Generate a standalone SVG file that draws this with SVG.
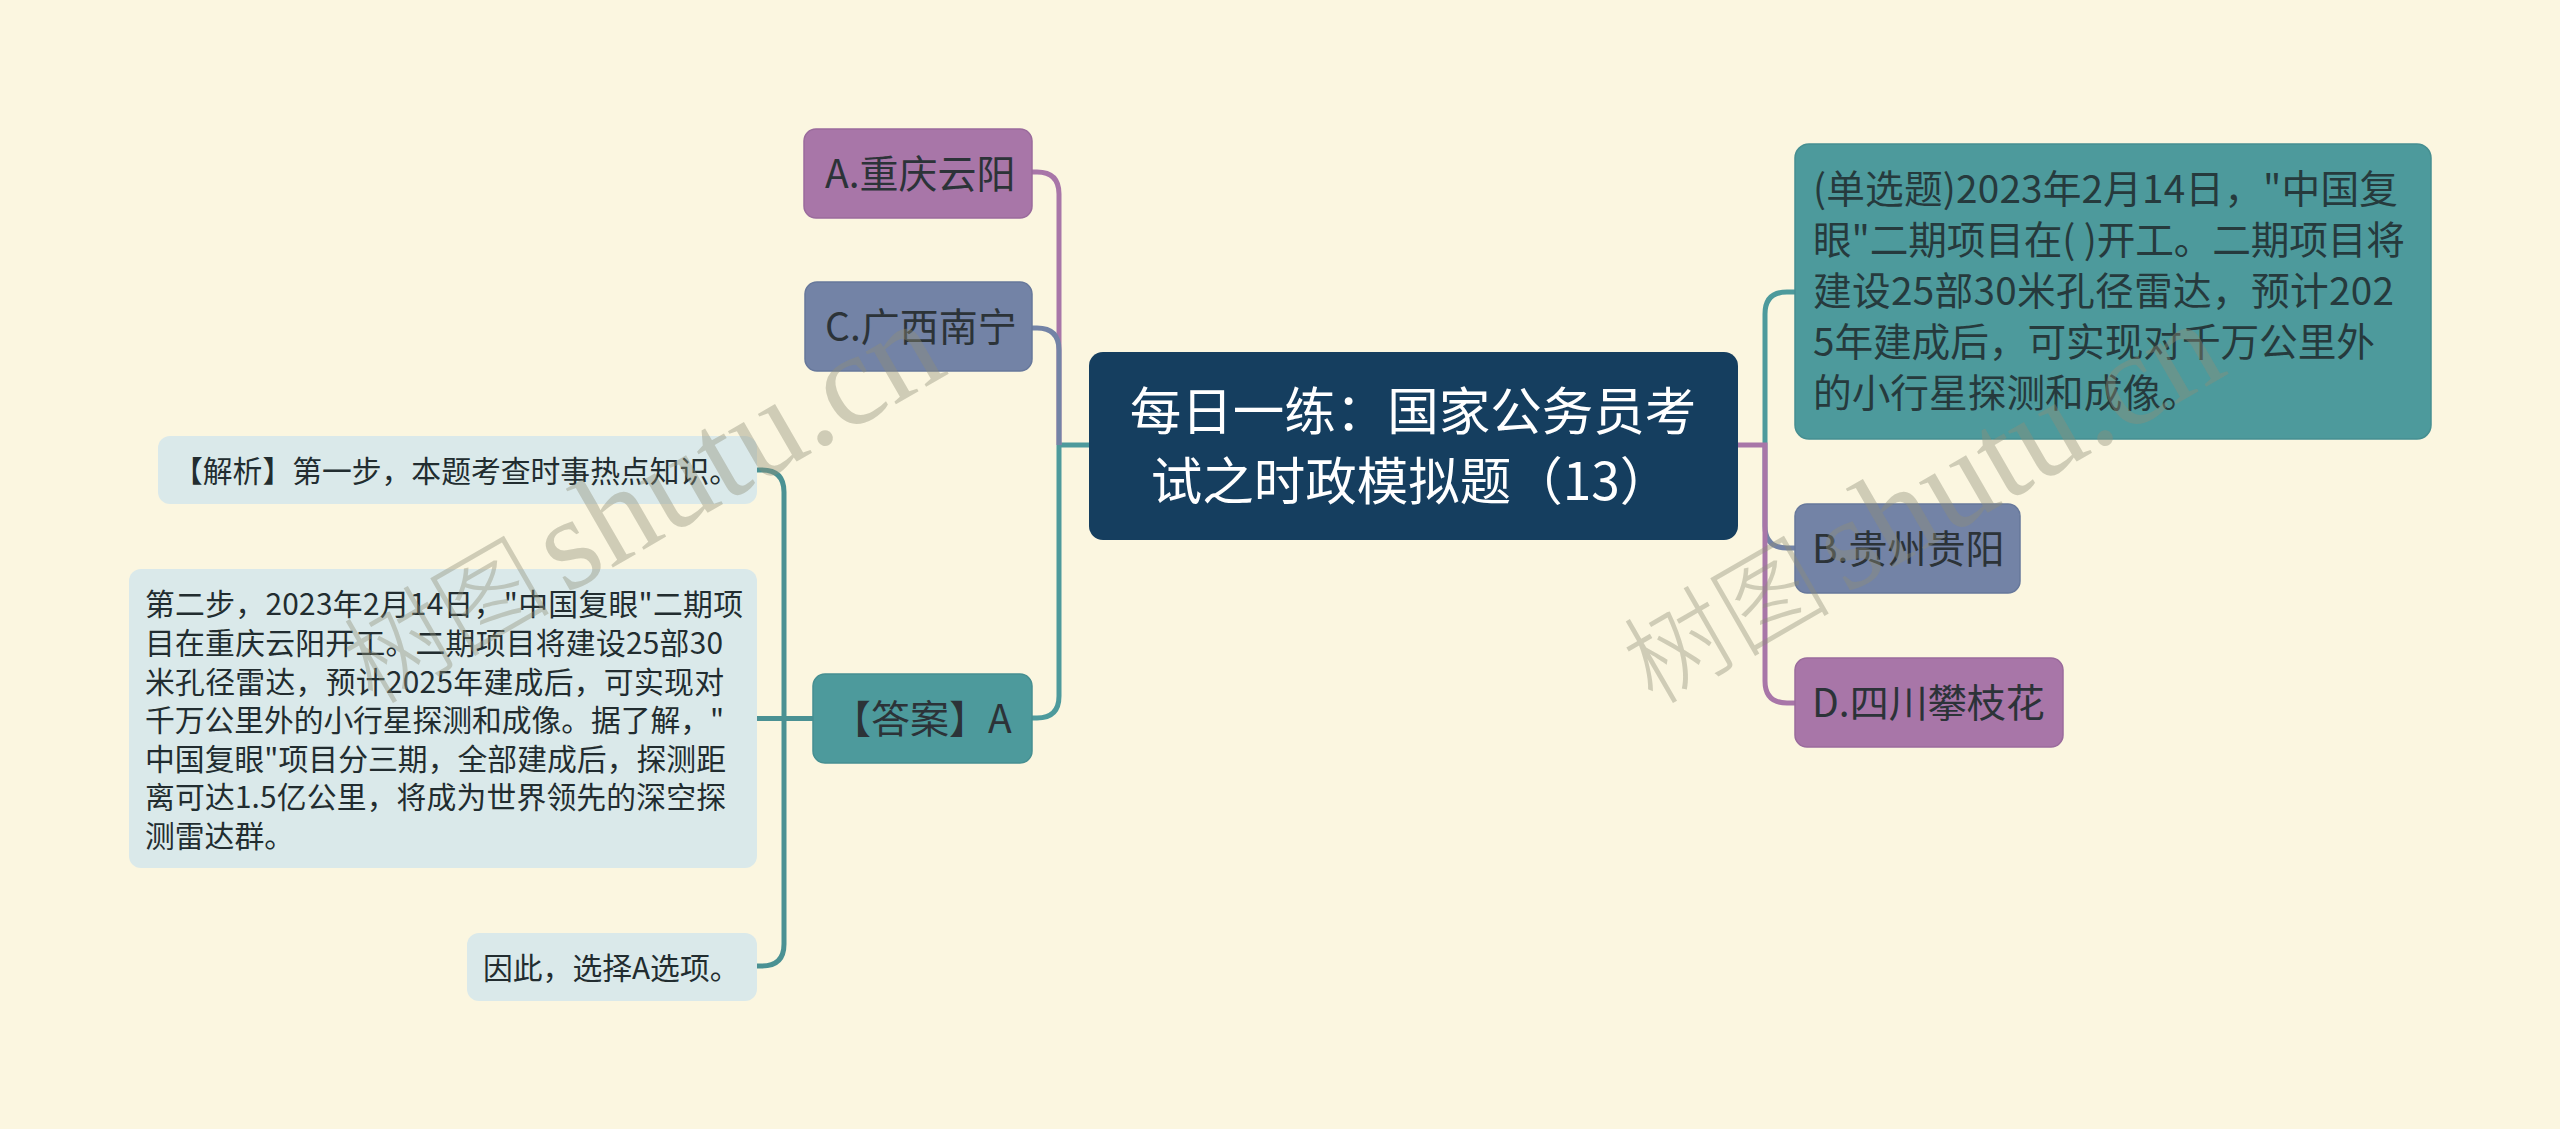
<svg xmlns="http://www.w3.org/2000/svg" width="2560" height="1129" viewBox="0 0 2560 1129">
<style>
text{font-family:"Noto Sans CJK SC","Noto Sans",sans-serif;white-space:pre}
.c{fill:none;stroke-width:5}
.t{stroke:#4d9a9c}.p{stroke:#a876a8}.b{stroke:#7383a6}
.title{font-size:51.5px;fill:#fff;text-anchor:middle}
.m{font-size:39px;fill:#2c3338}
.q{font-size:38.7px;fill:#263a3d}
.s{font-size:29.8px;fill:#222d30}
.wm{font-size:104px;font-weight:300;fill:#8f8f78;fill-opacity:.4}
.wl{font-family:"Liberation Serif",serif;font-size:132px;font-weight:400}
.np{fill:#a876a8;stroke:#9a6b9c;stroke-width:1.5}
.nb{fill:#7383a6;stroke:#67789b;stroke-width:1.5}
.nt{fill:#4d9a9c;stroke:#468f91;stroke-width:1.5}
.nl{fill:#dae9ea}
</style>
<rect width="2560" height="1129" fill="#fbf6e0"/>
<g id="connectors">
<path class="c t" d="M1089 445H1059"/>
<path class="c p" d="M1032 172H1037Q1059 172 1059 194V445"/>
<path class="c b" d="M1032 328H1037Q1059 328 1059 350V445"/>
<path class="c t" d="M1032 718H1037Q1059 718 1059 696V445"/>
<path class="c t" d="M1795 292H1787Q1765 292 1765 314V445"/>
<path class="c b" d="M1795 548H1787Q1765 548 1765 526V445"/>
<path class="c p" d="M1795 703H1787Q1765 703 1765 681V445H1738"/>
<path class="c" stroke="#4a9193" d="M757 470H762Q784 470 784 492V944Q784 966 762 966H757M757 718.5H813"/>
</g>
<g id="n-root"><rect x="1089" y="352" width="649" height="188" rx="14" fill="#153e5f"/>
<text class="title" x="1413" y="430">每日一练：国家公务员考</text>
<text class="title" x="1411" y="500">试之时政模拟题（13）</text></g>
<g id="n-a"><rect class="np" x="804" y="129" width="228" height="89" rx="12"/><text class="m" x="825" y="188">A.重庆云阳</text></g>
<g id="n-c"><rect class="nb" x="805" y="282" width="227" height="89" rx="12"/><text class="m" x="825" y="341">C.广西南宁</text></g>
<g id="n-ans"><rect class="nt" x="813" y="674" width="219" height="89" rx="12"/><text class="m" x="832" y="733">【答案】A</text></g>
<g id="n-q"><rect class="nt" x="1795" y="144" width="636" height="295" rx="14"/>
<text class="q" x="1813" y="203" textLength="585">(单选题)2023年2月14日，"中国复</text>
<text class="q" x="1813" y="254" textLength="592">眼"二期项目在( )开工。二期项目将</text>
<text class="q" x="1813" y="305" textLength="581">建设25部30米孔径雷达，预计202</text>
<text class="q" x="1813" y="356" textLength="562">5年建成后，可实现对千万公里外</text>
<text class="q" x="1813" y="407">的小行星探测和成像。</text></g>
<g id="n-b"><rect class="nb" x="1795" y="504" width="225" height="89" rx="12"/><text class="m" x="1812" y="563">B.贵州贵阳</text></g>
<g id="n-d"><rect class="np" x="1795" y="658" width="268" height="89" rx="12"/><text class="m" x="1812" y="717">D.四川攀枝花</text></g>
<g id="n-s1"><rect class="nl" x="158" y="436" width="599" height="68" rx="12"/><text class="s" x="173" y="482">【解析】第一步，本题考查时事热点知识。</text></g>
<g id="n-s2"><rect class="nl" x="129" y="569" width="628" height="299" rx="12"/>
<text class="s" x="145" y="615" textLength="598">第二步，2023年2月14日，"中国复眼"二期项</text>
<text class="s" x="145" y="654" textLength="578">目在重庆云阳开工。二期项目将建设25部30</text>
<text class="s" x="145" y="693" textLength="579">米孔径雷达，预计2025年建成后，可实现对</text>
<text class="s" x="145" y="731" textLength="579">千万公里外的小行星探测和成像。据了解，"</text>
<text class="s" x="145" y="770" textLength="581">中国复眼"项目分三期，全部建成后，探测距</text>
<text class="s" x="145" y="808" textLength="581">离可达1.5亿公里，将成为世界领先的深空探</text>
<text class="s" x="145" y="847">测雷达群。</text></g>
<g id="n-s3"><rect class="nl" x="467" y="933" width="290" height="68" rx="12"/><text class="s" x="483" y="979">因此，选择A选项。</text></g>
<g id="watermarks">
<text class="wm" transform="translate(373 706) rotate(-30)">树图 <tspan class="wl" dx="-8">shutu.cn</tspan></text>
<text class="wm" transform="translate(1653 706) rotate(-30)">树图 <tspan class="wl" dx="-8">shutu.cn</tspan></text>
</g>
</svg>
